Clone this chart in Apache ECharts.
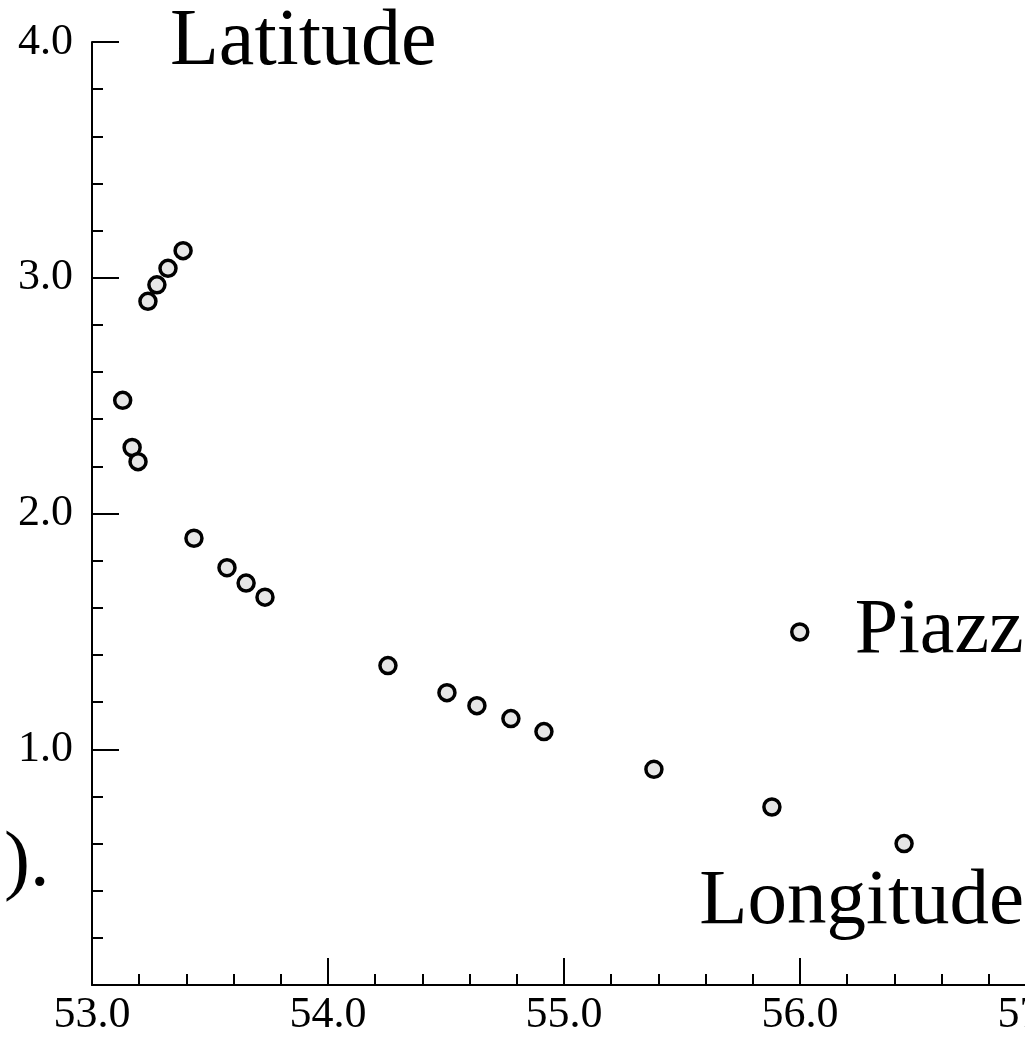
<!DOCTYPE html>
<html>
<head>
<meta charset="utf-8">
<script src="https://cdn.jsdelivr.net/npm/echarts@6/dist/echarts.min.js"></script>
<style>
  html, body { margin: 0; padding: 0; background: #fff; }
  #main { width: 1025px; height: 1037px; }
</style>
</head>
<body>
<div id="main"></div>
<script>
// observations of Piazzi: longitude / latitude (deg)
const longitude = [53.13, 53.17, 53.195, 53.237, 53.275, 53.322, 53.386, 53.432, 53.572, 53.653,
  53.733, 54.254, 54.504, 54.631, 54.775, 54.915, 55.381, 55.881, 56.441];
const latitude = [2.48, 2.28, 2.22, 2.90, 2.97, 3.04, 3.115, 1.895, 1.77, 1.705,
  1.645, 1.355, 1.24, 1.185, 1.13, 1.075, 0.915, 0.755, 0.60];

const xTicks = [53, 57];   // min / max of longitude axis
const yTicks = [0, 4];     // min / max of latitude axis

const serif = '"Liberation Serif", "Times New Roman", serif';

let points = [];
for (let i = 0; i < longitude.length; i++) {
  points.push([longitude[i], latitude[i]]);
}

const chart = echarts.init(document.getElementById('main'), null, { renderer: 'canvas' });

const axisCommon = {
  type: 'value',
  interval: 1,
  splitLine: { show: false },
  axisLine: { show: true, lineStyle: { color: '#000', width: 2 } },
  axisTick: { show: true, inside: true, length: 27, lineStyle: { color: '#000', width: 2 } },
  minorTick: { show: true, splitNumber: 5, length: 11, lineStyle: { color: '#000', width: 2 } },
  axisLabel: {
    color: '#000',
    fontFamily: serif,
    fontSize: 44,
    formatter: function (v) { return v.toFixed(1); }
  }
};

chart.setOption({
  animation: false,
  backgroundColor: '#fff',
  // the plot runs past the right edge of the picture (57.0 is cut off)
  grid: { left: 92, top: 42, right: -11, bottom: 52, containLabel: false, outerBoundsMode: 'none' },
  legend: {
    data: ['Piazzi'],
    left: 785,
    top: 588,
    icon: 'circle',
    itemWidth: 16,
    itemHeight: 16,
    itemStyle: { borderWidth: 3.5, borderColor: '#000', color: '#e6e6e6' },
    textStyle: { fontFamily: serif, fontSize: 78, color: '#000', padding: [0, 0, 0, 42] }
  },
  xAxis: Object.assign({}, axisCommon, {
    min: xTicks[0],
    max: xTicks[1],
    axisLabel: Object.assign({}, axisCommon.axisLabel, { margin: 8 })
  }),
  yAxis: Object.assign({}, axisCommon, {
    min: yTicks[0],
    max: yTicks[1],
    axisLabel: Object.assign({}, axisCommon.axisLabel, { margin: 19, showMinLabel: false })
  }),
  graphic: [
    {
      type: 'text', left: 170, top: 3,
      style: { text: 'Latitude', font: '80px ' + serif, fill: '#000' }
    },
    {
      type: 'text', right: 1, top: 863,
      style: { text: 'Longitude', font: '79px ' + serif, fill: '#000' }
    },
    {
      type: 'text', left: 4, top: 826,
      style: { text: ').', font: '78px ' + serif, fill: '#000' }
    }
  ],
  series: [
    {
      name: 'Piazzi',
      type: 'scatter',
      symbol: 'circle',
      symbolSize: 16,
      itemStyle: { color: '#e6e6e6', borderColor: '#000', borderWidth: 3.5, opacity: 1 },
      data: points
    }
  ]
});
</script>
</body>
</html>
